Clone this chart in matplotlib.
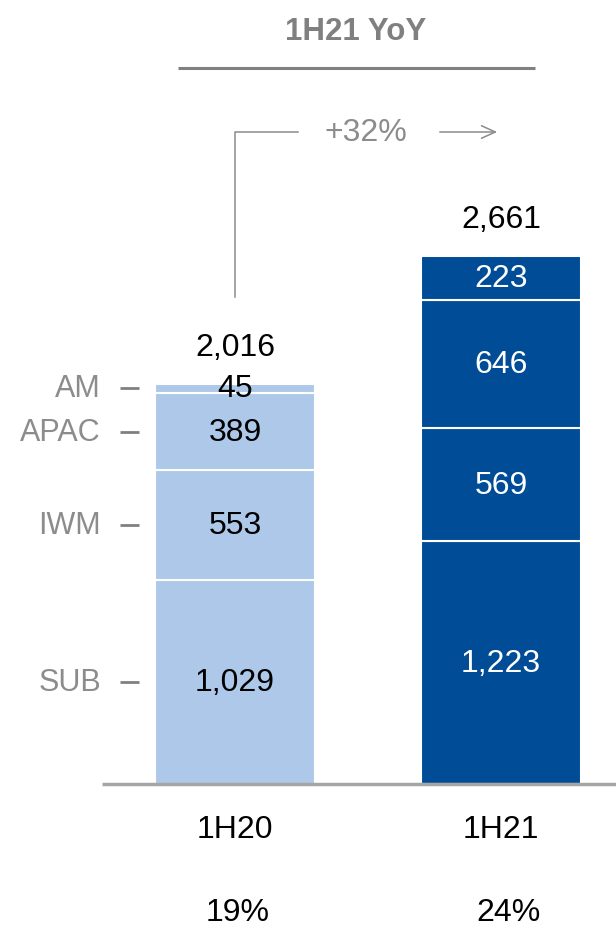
import matplotlib
matplotlib.use("Agg")
import matplotlib.pyplot as plt

categories = ["1H20", "1H21"]
segments = ["SUB", "IWM", "APAC", "AM"]
values_1h20 = [1029, 553, 389, 45]
values_1h21 = [1223, 569, 646, 223]
totals = [2016, 2661]
margins = ["19%", "24%"]
growth = "+32%"
title = "1H21 YoY"

colors = ["#ADC8E9", "#004C97"]
text_colors = ["#000000", "#FFFFFF"]
gray = "#808080"
lgray = "#8C8C8C"
plt.rcParams['font.family'] = ['Liberation Sans', 'DejaVu Sans']

W, H = 616, 929
fig = plt.figure(figsize=(W / 100, H / 100), dpi=100)
ax = fig.add_axes([0, 0, 1, 1])

scale = 0.1984   # px per unit
base_px = 785
cx0 = 235
dx = 266
FS = 23

def py(px):
    return (base_px - px) / scale

def pxx(px):
    return (px - cx0) / dx

ax.set_ylim(py(H), py(0))
ax.set_xlim(pxx(0), pxx(W))
ax.axis("off")

width = 160 / dx
series = [values_1h20, values_1h21]
for i, vals in enumerate(series):
    bottom = 0
    for v in vals:
        ax.bar(i, v, width=width, bottom=bottom, color=colors[i],
               edgecolor="white", linewidth=1.5)
        ax.text(i, bottom + v / 2, f"{v:,}", ha="center", va="center",
                fontsize=FS, color=text_colors[i])
        bottom += v
    ax.text(i, totals[i] + py(base_px - 37), f"{totals[i]:,}", ha="center",
            va="center", fontsize=FS, color="black")
    ax.text(i, py(830), categories[i], ha="center", va="center",
            fontsize=FS, color="black")
    ax.text(i + (0.01 if i == 0 else 0.03), py(913), margins[i], ha="center",
            va="center", fontsize=FS, color="black")

# segment labels on the left (at 1H20 segment centers)
bottom = 0
for name, v in zip(segments, values_1h20):
    yc = bottom + v / 2
    ax.text(pxx(101), yc, name, ha="right", va="center", fontsize=22,
            color=lgray)
    ax.plot([pxx(120), pxx(139)], [yc, yc], color=gray, linewidth=2,
            solid_capstyle="butt")
    bottom += v

# baseline
ax.plot([pxx(102), pxx(W)], [0, 0], color="#A6A6A6", linewidth=2.5,
        solid_capstyle="butt")

# title and underline
ax.text(pxx(356), py(32), title, ha="center", va="center", fontsize=22.5,
        fontweight="bold", color=gray)
ax.plot([pxx(178), pxx(535)], [py(69), py(69)], color=gray, linewidth=2.2,
        solid_capstyle="butt")

# growth bracket
yb = py(133)
ax.plot([0, 0, pxx(298)], [py(298), yb, yb], color=lgray, linewidth=1.1)
ax.text(pxx(366), yb, growth, ha="center", va="center", fontsize=FS,
        color=lgray)
ax.annotate("", xy=(pxx(500), yb), xytext=(pxx(437), yb),
            arrowprops=dict(arrowstyle="->,head_length=1.0,head_width=0.45",
                            color=lgray, linewidth=1.1))

fig.savefig("out.png", dpi=100)
